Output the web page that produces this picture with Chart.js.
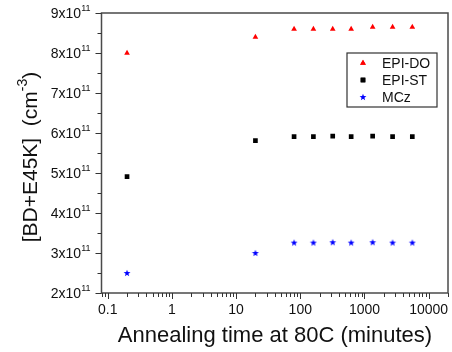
<!DOCTYPE html>
<html lang="en">
<head>
  <meta charset="UTF-8">
  <title>Annealing time at 80C</title>
  <script src="https://cdn.jsdelivr.net/npm/chart.js"></script>
  <style>
    body { margin: 0; background: #fff; }
  </style>
</head>
<body>
  <div style="width:452px;height:352px">
    <canvas id="chart" width="452" height="352"></canvas>
  </div>

  <script>
    // annealing times (minutes) and concentrations (cm^-3)
    const times = [0.2, 20, 80, 160, 320, 620, 1340, 2740, 5560];
    const epiDO = [8.0e11, 8.4e11, 8.6e11, 8.6e11, 8.6e11, 8.6e11, 8.65e11, 8.65e11, 8.65e11];
    const epiST = [4.91e11, 5.81e11, 5.91e11, 5.91e11, 5.92e11, 5.91e11, 5.92e11, 5.91e11, 5.91e11];
    const mcz = [2.5e11, 3.0e11, 3.26e11, 3.26e11, 3.27e11, 3.26e11, 3.27e11, 3.26e11, 3.26e11];

    const xMajor = [0.1, 1, 10, 100, 1000, 10000];
    const xLabels = ["0.1", "1", "10", "100", "1000", "10000"];
    const yMajor = [2, 3, 4, 5, 6, 7, 8, 9];

    const FONT = "Arial, 'Liberation Sans', sans-serif";

    // filled 5-point star used as a point style
    function makeStar(color) {
      const c = document.createElement("canvas");
      c.width = 8; c.height = 8;
      const g = c.getContext("2d");
      g.fillStyle = color;
      g.beginPath();
      for (let i = 0; i < 10; i++) {
        const r = i % 2 === 0 ? 3.6 : 1.5;
        const a = -Math.PI / 2 + i * Math.PI / 5;
        const px = 4 + r * Math.cos(a), py = 4.3 + r * Math.sin(a);
        if (i === 0) g.moveTo(px, py); else g.lineTo(px, py);
      }
      g.closePath();
      g.fill();
      return c;
    }

    const toPts = (ys) => times.map((t, i) => ({ x: t, y: ys[i] }));

    function supText(ctx, parts, x, y) {
      // parts: [text, size, dy]; draws left to right from x
      let cx = x;
      parts.forEach(([t, size, dy]) => {
        ctx.font = size + "px " + FONT;
        ctx.fillText(t, cx, y + dy);
        cx += ctx.measureText(t).width;
      });
      return cx - x;
    }
    function supWidth(ctx, parts) {
      let w = 0;
      parts.forEach(([t, size]) => {
        ctx.font = size + "px " + FONT;
        w += ctx.measureText(t).width;
      });
      return w;
    }

    const framePlugin = {
      id: "frame",
      afterDraw(chart) {
        const { ctx, chartArea: a, scales } = chart;
        const xs = scales.x, ys = scales.y;
        ctx.save();

        // frame
        ctx.strokeStyle = "#4a4a4a";
        ctx.lineWidth = 1.5;
        ctx.strokeRect(a.left, a.top, a.right - a.left, a.bottom - a.top);

        // x ticks (log), pointing down
        ctx.lineWidth = 1;
        ctx.strokeStyle = "#333";
        ctx.beginPath();
        for (let e = -2; e <= 4; e++) {
          for (let m = 1; m <= 9; m++) {
            const v = m * Math.pow(10, e);
            if (v < xs.min || v > xs.max) continue;
            const px = Math.round(xs.getPixelForValue(v)) + 0.5;
            const len = m === 1 ? 6 : 4;
            ctx.moveTo(px, a.bottom);
            ctx.lineTo(px, a.bottom + len);
          }
        }
        // y ticks, pointing left
        for (let v = 2; v <= 9; v += 0.5) {
          const py = Math.round(ys.getPixelForValue(v * 1e11)) + 0.5;
          const len = Number.isInteger(v) ? 6 : 4;
          ctx.moveTo(a.left, py);
          ctx.lineTo(a.left - len, py);
        }
        ctx.stroke();

        ctx.fillStyle = "#111";
        // x tick labels
        ctx.font = "14px " + FONT;
        ctx.textAlign = "center";
        ctx.textBaseline = "middle";
        xMajor.forEach((v, i) => {
          ctx.fillText(xLabels[i], xs.getPixelForValue(v), a.bottom + 17);
        });

        // y tick labels with superscript
        ctx.textAlign = "left";
        yMajor.forEach((v) => {
          const py = ys.getPixelForValue(v * 1e11);
          const parts = [[v + "x10", 14, 1], ["11", 9, -4]];
          const w = supWidth(ctx, parts);
          supText(ctx, parts, a.left - 11 - w, py);
        });

        // x title
        ctx.font = "22px " + FONT;
        ctx.textAlign = "center";
        ctx.fillText("Annealing time at 80C (minutes)", 275, 336);

        // y title (rotated)
        ctx.save();
        ctx.translate(31, 157);
        ctx.rotate(-Math.PI / 2);
        ctx.textAlign = "left";
        const tparts = [["[BD+E45K]  (cm", 21, 0], ["-3", 14, -8], [")", 21, 0]];
        const tw = supWidth(ctx, tparts);
        supText(ctx, tparts, -tw / 2, 0);
        ctx.restore();

        // legend
        const lx = 347, ly = 53, lw = 90, lh = 54;
        ctx.fillStyle = "#fff";
        ctx.fillRect(lx, ly, lw, lh);
        ctx.strokeStyle = "#333";
        ctx.lineWidth = 1.2;
        ctx.strokeRect(lx, ly, lw, lh);
        ctx.font = "14px " + FONT;
        ctx.textAlign = "left";
        chart.data.datasets.forEach((ds, i) => {
          const ry = ly + 10 + i * 17;
          ctx.fillStyle = ds.backgroundColor;
          ctx.beginPath();
          Chart.helpers.drawPoint(ctx, {
            pointStyle: ds.pointStyle, radius: ds.pointRadius, rotation: 0, borderWidth: 0
          }, lx + 16, ry);
          if (typeof ds.pointStyle === "string") ctx.fill();
          ctx.fillStyle = "#111";
          ctx.fillText(ds.label, lx + 35, ry + 1);
        });

        ctx.restore();
      }
    };

    new Chart(document.getElementById("chart"), {
      type: "scatter",
      data: {
        datasets: [
          {
            label: "EPI-DO",
            data: toPts(epiDO),
            pointStyle: "triangle",
            pointRadius: 3.3,
            backgroundColor: "#ff0000",
            borderColor: "#ff0000",
            borderWidth: 0,
          },
          {
            label: "EPI-ST",
            data: toPts(epiST),
            pointStyle: "rect",
            pointRadius: 3.3,
            backgroundColor: "#000000",
            borderColor: "#000000",
            borderWidth: 0,
          },
          {
            label: "MCz",
            data: toPts(mcz),
            pointStyle: makeStar("#0000ff"),
            pointRadius: 4,
            backgroundColor: "#0000ff",
            borderColor: "#0000ff",
            borderWidth: 0,
          },
        ],
      },
      options: {
        responsive: false,
        animation: false,
        layout: { padding: { left: 101.5, right: 2, top: 13, bottom: 59 } },
        plugins: {
          legend: { display: false },
          tooltip: { enabled: false },
        },
        scales: {
          x: { type: "logarithmic", min: 0.08, max: 20000, display: false },
          y: { type: "linear", min: 2e11, max: 9e11, display: false },
        },
      },
      plugins: [framePlugin],
    });
  </script>
</body>
</html>
